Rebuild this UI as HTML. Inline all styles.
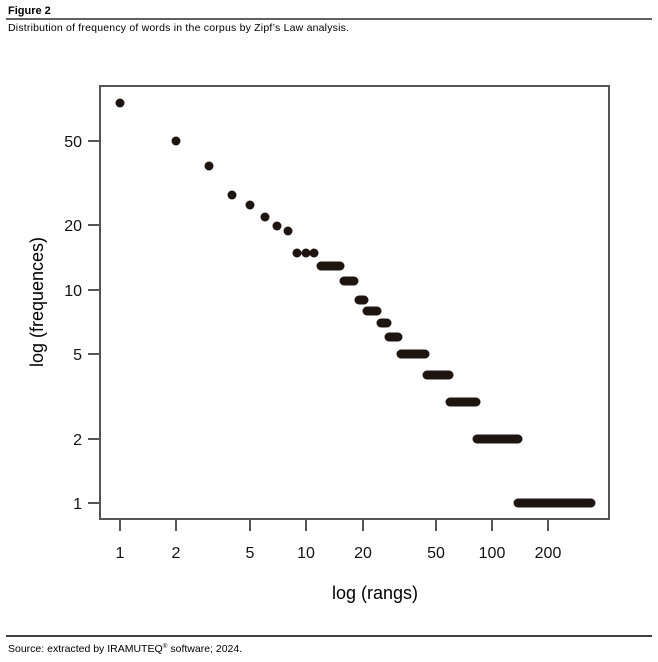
<!DOCTYPE html>
<html><head><meta charset="utf-8"><style>
body{margin:0;background:#fff;width:658px;height:662px;overflow:hidden}
svg{display:block}
</style></head><body>
<svg width="658" height="662" xmlns="http://www.w3.org/2000/svg" font-family="Liberation Sans, sans-serif">
<text x="8" y="14" font-size="11" font-weight="bold">Figure 2</text>
<line x1="6" y1="19" x2="652" y2="19" stroke="#000" stroke-width="1.2"/>
<text x="8" y="31" font-size="10.5" letter-spacing="0.2">Distribution of frequency of words in the corpus by Zipf’s Law analysis.</text>
<rect x="100" y="86" width="509" height="433" fill="none" stroke="#555" stroke-width="2"/>
<g stroke="#555" stroke-width="2">
<line x1="88" y1="141" x2="100" y2="141"/><line x1="88" y1="225" x2="100" y2="225"/><line x1="88" y1="290" x2="100" y2="290"/><line x1="88" y1="354" x2="100" y2="354"/><line x1="88" y1="439" x2="100" y2="439"/><line x1="88" y1="503" x2="100" y2="503"/>
<line x1="120" y1="519" x2="120" y2="531"/><line x1="176" y1="519" x2="176" y2="531"/><line x1="250" y1="519" x2="250" y2="531"/><line x1="306" y1="519" x2="306" y2="531"/><line x1="363" y1="519" x2="363" y2="531"/><line x1="436" y1="519" x2="436" y2="531"/><line x1="492" y1="519" x2="492" y2="531"/><line x1="548" y1="519" x2="548" y2="531"/>
</g>
<g font-size="16" text-anchor="end" fill="#111">
<text x="82" y="147">50</text><text x="82" y="231">20</text><text x="82" y="296">10</text><text x="82" y="360">5</text><text x="82" y="445">2</text><text x="82" y="509">1</text>
</g>
<g font-size="16" text-anchor="middle" fill="#111">
<text x="120" y="558">1</text><text x="176" y="558">2</text><text x="250" y="558">5</text><text x="306" y="558">10</text><text x="363" y="558">20</text><text x="436" y="558">50</text><text x="492" y="558">100</text><text x="548" y="558">200</text>
</g>
<text x="375" y="599" font-size="18" text-anchor="middle">log (rangs)</text>
<text transform="translate(43,302) rotate(-90)" font-size="18" text-anchor="middle">log (frequences)</text>
<g fill="#1e1410">
<circle cx="120" cy="103" r="4.5"/><circle cx="176" cy="141" r="4.5"/><circle cx="209" cy="166" r="4.5"/><circle cx="232" cy="195" r="4.5"/><circle cx="250" cy="205" r="4.5"/><circle cx="265" cy="217" r="4.5"/><circle cx="277" cy="226" r="4.5"/><circle cx="288" cy="231" r="4.5"/>
<circle cx="297" cy="253" r="4.5"/><circle cx="306" cy="253" r="4.5"/><circle cx="314" cy="253" r="4.5"/>
</g>
<g stroke="#1e1410" stroke-width="9" stroke-linecap="round">
<line x1="321" y1="266" x2="340" y2="266"/>
<line x1="344" y1="281" x2="354" y2="281"/>
<line x1="359" y1="300" x2="364" y2="300"/>
<line x1="367" y1="311" x2="377" y2="311"/>
<line x1="381" y1="323" x2="387" y2="323"/>
<line x1="389" y1="337" x2="398" y2="337"/>
<line x1="401" y1="354" x2="425" y2="354"/>
<line x1="427" y1="375" x2="449" y2="375"/>
<line x1="450" y1="402" x2="476" y2="402"/>
<line x1="477" y1="439" x2="518" y2="439"/>
<line x1="518" y1="503" x2="591" y2="503"/>
</g>
<line x1="6" y1="636" x2="652" y2="636" stroke="#000" stroke-width="1.5"/>
<text x="8" y="652" font-size="10.5">Source: extracted by IRAMUTEQ<tspan font-size="6.5" dy="-4">®</tspan><tspan dy="4"> software; 2024.</tspan></text>
</svg>
</body></html>
